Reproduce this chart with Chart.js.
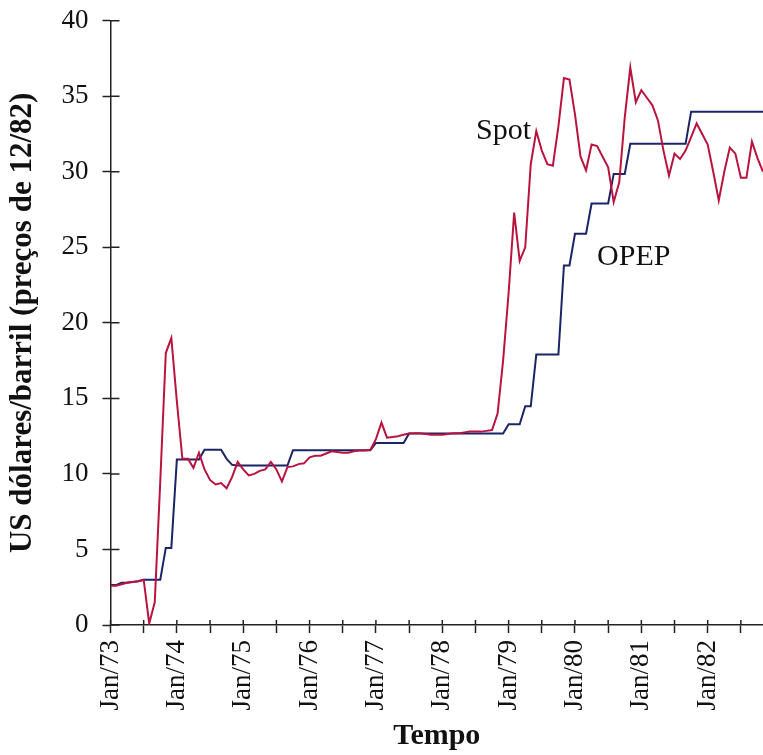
<!DOCTYPE html>
<html>
<head>
<meta charset="utf-8">
<script src="https://cdn.jsdelivr.net/npm/chart.js@4.4.1/dist/chart.umd.min.js"></script>
<style>
  html, body { margin: 0; padding: 0; background: #ffffff; }
  #wrap { width: 763px; height: 755px; }
</style>
</head>
<body>
<div id="wrap"><canvas id="c" width="763" height="755"></canvas></div>
<script>
// Month index 0 = Jan/73
const tickLabels = ['Jan/73','Jan/74','Jan/75','Jan/76','Jan/77','Jan/78','Jan/79','Jan/80','Jan/81','Jan/82'];

// Spot price, monthly (US$/barril, preços de 12/82)
const spotValues = [
  2.6, 2.6, 2.7, 2.8, 2.85, 2.9, 3.0, 0.1, 1.5, 9.5,
  18.0, 19.0, 14.8, 11.0, 11.0, 10.4, 11.4, 10.3, 9.6, 9.3,
  9.4, 9.05, 9.8, 10.8, 10.3, 9.9, 10.0, 10.2, 10.3, 10.8,
  10.3, 9.5, 10.45, 10.5, 10.65, 10.7, 11.1, 11.2, 11.2, 11.35,
  11.5, 11.45, 11.4, 11.4, 11.5, 11.55, 11.55, 11.6, 12.3, 13.4,
  12.4, 12.45, 12.5, 12.6, 12.67, 12.7, 12.7, 12.65, 12.6, 12.6,
  12.6, 12.65, 12.7, 12.7, 12.75, 12.8, 12.8, 12.8, 12.85, 12.9,
  14.0, 17.5, 22.0, 27.3, 24.1, 25.0, 30.5, 32.7, 31.4, 30.5,
  30.4, 33.0, 36.2, 36.1, 33.8, 31.0, 30.1, 31.8, 31.7, 31.0,
  30.3, 28.0, 29.3, 33.6, 36.9, 34.6, 35.4, 34.9, 34.4, 33.4,
  31.4, 29.75, 31.2, 30.85, 31.4, 32.3, 33.2, 32.5, 31.8, 30.0,
  28.1, 30.0, 31.6, 31.2, 29.6, 29.6, 32.0, 30.9, 30.0
];

// OPEP official price, monthly
const opepValues = [
  2.64, 2.64, 2.8, 2.82, 2.85, 2.9, 3.0, 3.0, 3.0, 3.0,
  5.1, 5.1, 10.95, 10.95, 10.95, 10.95, 10.95, 11.6, 11.6, 11.6,
  11.6, 11.0, 10.6, 10.55, 10.55, 10.55, 10.55, 10.55, 10.55, 10.55,
  10.55, 10.55, 10.55, 11.57, 11.57, 11.57, 11.57, 11.57, 11.57, 11.57,
  11.57, 11.57, 11.57, 11.57, 11.57, 11.57, 11.57, 11.57, 12.05, 12.05,
  12.05, 12.05, 12.05, 12.05, 12.67, 12.67, 12.67, 12.67, 12.67, 12.67,
  12.67, 12.67, 12.67, 12.67, 12.67, 12.67, 12.67, 12.67, 12.67, 12.67,
  12.67, 12.67, 13.29, 13.29, 13.29, 14.48, 14.48, 17.9, 17.9, 17.9,
  17.9, 17.9, 23.8, 23.8, 25.9, 25.9, 25.9, 27.9, 27.9, 27.9,
  27.9, 29.86, 29.86, 29.86, 31.85, 31.85, 31.85, 31.85, 31.85, 31.85,
  31.85, 31.85, 31.85, 31.85, 31.85, 33.98, 33.98, 33.98, 33.98, 33.98,
  33.98, 33.98, 33.98, 33.98, 33.98, 33.98, 33.98, 33.98, 33.98
];

const seriesNames = ['Spot', 'OPEP'];
const labelAnchors = [ {x: 66.1, y: 32.2}, {x: 88.0, y: 23.8} ];

const toXY = arr => arr.map((v, i) => ({x: i, y: v}));

const SERIF = '"Liberation Serif", "Times New Roman", serif';

const innerTicks = {
  id: 'innerTicks',
  afterDraw(chart) {
    const ctx = chart.ctx;
    const xs = chart.scales.x, ys = chart.scales.y;
    ctx.save();
    ctx.strokeStyle = '#222';
    ctx.lineWidth = 1.5;
    ctx.beginPath();
    ys.ticks.forEach((t, i) => {
      const py = ys.getPixelForTick(i);
      ctx.moveTo(xs.left, py);
      ctx.lineTo(xs.left + 9, py);
    });
    xs.ticks.forEach((t, i) => {
      const px = xs.getPixelForTick(i);
      ctx.moveTo(px, ys.bottom);
      ctx.lineTo(px, ys.bottom - 5);
    });
    ctx.stroke();
    // series annotations
    ctx.fillStyle = '#111';
    ctx.font = '30px ' + SERIF;
    ctx.textAlign = 'left';
    ctx.textBaseline = 'alphabetic';
    seriesNames.forEach((n, i) => {
      ctx.fillText(n, xs.getPixelForValue(labelAnchors[i].x), ys.getPixelForValue(labelAnchors[i].y));
    });
    ctx.restore();
  }
};

new Chart(document.getElementById('c'), {
  type: 'line',
  data: {
    datasets: [
      { label: seriesNames[0], data: toXY(spotValues), borderColor: '#b8143f', borderWidth: 2, pointRadius: 0, tension: 0, fill: false },
      { label: seriesNames[1], data: toXY(opepValues), borderColor: '#1a2466', borderWidth: 2, pointRadius: 0, tension: 0, fill: false }
    ]
  },
  options: {
    responsive: false,
    animation: false,
    layout: { padding: { top: 20.7, right: 0, bottom: 0, left: 0 } },
    plugins: { legend: { display: false }, tooltip: { enabled: false } },
    scales: {
      x: {
        type: 'linear',
        min: 0, max: 118,
        afterFit(s) { s.height = 130; s.paddingLeft = 0; s.paddingRight = 0; },
        grid: { drawOnChartArea: false, drawTicks: true, tickLength: 8, tickColor: '#222', tickWidth: 1.5 },
        border: { display: true, color: '#222', width: 1.5 },
        ticks: {
          stepSize: 6, includeBounds: false, autoSkip: false,
          maxRotation: 90, minRotation: 90, padding: 7,
          color: '#111',
          font: { family: SERIF, size: 27 },
          callback: v => (v % 12 === 0 ? tickLabels[v / 12] : '')
        },
        title: { display: true, text: 'Tempo', color: '#111', font: { family: SERIF, size: 30, weight: 'bold' }, padding: { top: 0, bottom: 1 } }
      },
      y: {
        min: 0, max: 40,
        afterFit(s) { s.width = 110.5; s.paddingTop = 0; s.paddingBottom = 0; },
        grid: { drawOnChartArea: false, drawTicks: true, tickLength: 8, tickColor: '#222', tickWidth: 1.5 },
        border: { display: true, color: '#222', width: 1.5 },
        ticks: { stepSize: 5, padding: 14, color: '#111', font: { family: SERIF, size: 27 } },
        title: { display: true, text: 'US dólares/barril (preços de 12/82)', color: '#111', font: { family: SERIF, size: 31, weight: 'bold' }, padding: { top: 4, bottom: 0 } }
      }
    }
  },
  plugins: [innerTicks]
});
</script>
</body>
</html>
